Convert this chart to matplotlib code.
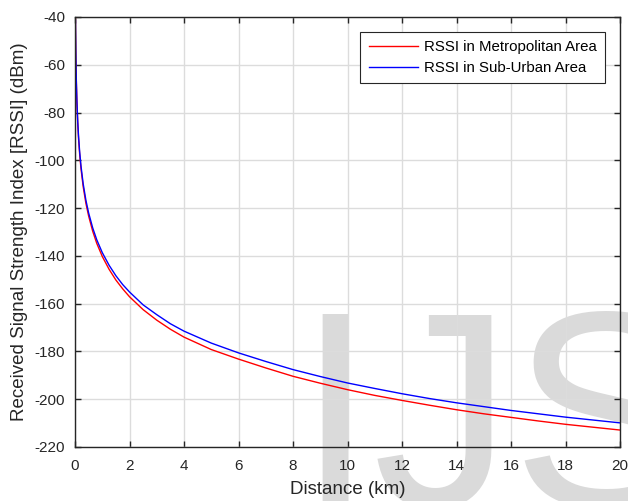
import matplotlib
matplotlib.use("Agg")
import matplotlib.pyplot as plt

plt.rcParams['font.family'] = ['Liberation Sans', 'DejaVu Sans']
plt.rcParams['axes.unicode_minus'] = False

# Distance samples (km) and received signal strength (dBm)
dist_metro = [0.016, 0.02, 0.03, 0.04, 0.05, 0.07, 0.1, 0.13, 0.17, 0.22, 0.3, 0.4,
              0.5, 0.65, 0.8, 1.0, 1.25, 1.5, 1.75, 2, 2.5, 3, 3.5, 4, 5, 6, 7, 8,
              9, 10, 11, 12, 13, 14, 15, 16, 17, 18, 19, 20]
rssi_metro = [-40.2, -45.6, -55.3, -62.2, -67.6, -75.8, -84.4, -90.8, -97.3, -103.5,
              -111.0, -118.0, -123.3, -129.7, -134.8, -140.2, -145.6, -150.1, -153.8,
              -157.1, -162.5, -166.9, -170.7, -174.0, -179.2, -183.2, -186.9, -190.4,
              -193.3, -196.0, -198.4, -200.5, -202.5, -204.4, -206.1, -207.6, -209.1,
              -210.5, -211.7, -212.9]

dist_suburban = [0.017, 0.02, 0.03, 0.04, 0.05, 0.07, 0.1, 0.13, 0.17, 0.22, 0.3, 0.4,
                 0.5, 0.65, 0.8, 1.0, 1.25, 1.5, 1.75, 2, 2.5, 3, 3.5, 4, 5, 6, 7, 8,
                 9, 10, 11, 12, 13, 14, 15, 16, 17, 18, 19, 20]
rssi_suburban = [-41.3, -45.2, -54.8, -61.7, -67.0, -75.1, -83.6, -89.9, -96.3, -102.4,
                 -109.8, -116.7, -122.0, -128.3, -133.3, -138.6, -143.9, -148.3, -152.0,
                 -155.1, -160.5, -164.6, -168.4, -171.5, -176.5, -180.6, -184.2, -187.6,
                 -190.5, -193.2, -195.5, -197.7, -199.7, -201.5, -203.1, -204.7, -206.1,
                 -207.5, -208.7, -209.9]

series_labels = ["RSSI in Metropolitan Area", "RSSI in Sub-Urban Area"]
x_ticks = list(range(0, 21, 2))
y_ticks = list(range(-220, -39, 20))

ink = '#262626'

fig = plt.figure(figsize=(6.28, 5.01), dpi=100)
fig.patch.set_facecolor('white')

# large light-grey watermark behind the axes
fig.text(296 / 628, 1 - 506 / 501, "IJS", fontsize=200, color='#dadada',
         ha='left', va='baseline', zorder=-10, family=['Liberation Sans'])

ax = fig.add_axes([75 / 628, 1 - 447 / 501, 545 / 628, 430 / 501])
ax.patch.set_alpha(0)

ax.plot(dist_metro, rssi_metro, color='#ff0000', lw=1.0, label=series_labels[0])
ax.plot(dist_suburban, rssi_suburban, color='#0000ff', lw=1.0, label=series_labels[1])

ax.set_xlim(0, 20)
ax.set_ylim(-220, -40)
ax.set_xticks(x_ticks)
ax.set_yticks(y_ticks)
ax.grid(True, color='#dcdcdc', lw=1.0)
ax.set_axisbelow(True)

ax.tick_params(direction='in', top=True, right=True, length=4.5, width=1.0,
               colors=ink, labelsize=11)
ax.tick_params(axis='x', pad=8.5)
ax.tick_params(axis='y', pad=7)
for s in ax.spines.values():
    s.set_color(ink)
    s.set_linewidth(1.0)

ax.set_xlabel("Distance (km)", fontsize=13.5, color=ink, labelpad=6)
ax.set_ylabel("Received Signal Strength Index [RSSI] (dBm)", fontsize=13.5,
              color=ink, labelpad=5)

leg = ax.legend(loc='upper right', fontsize=10.8, frameon=True, fancybox=False,
                edgecolor=ink, framealpha=1, borderpad=0.55, handlelength=3.3,
                handletextpad=0.4, borderaxespad=1.0, labelspacing=0.45)
leg.get_frame().set_linewidth(0.8)
for t in leg.get_texts():
    t.set_color('black')

fig.savefig("out.png", dpi=100)
